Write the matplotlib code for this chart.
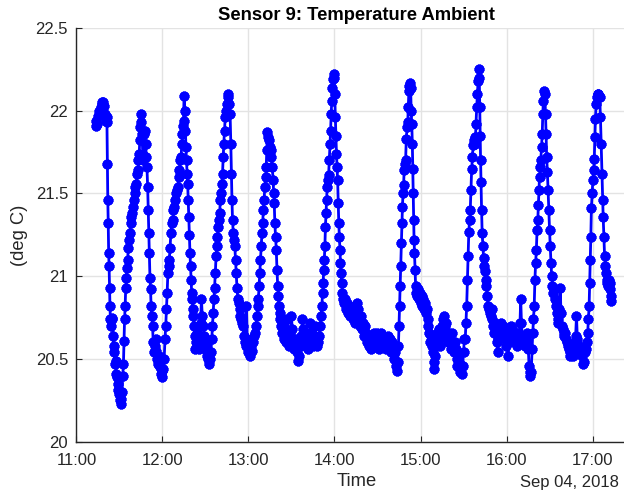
import matplotlib
matplotlib.use('Agg')
import matplotlib.pyplot as plt
import matplotlib.dates as mdates
import numpy as np
import pandas as pd

plt.rcParams['font.family'] = ['Liberation Sans', 'DejaVu Sans']

# minutes after 11:00 on Sep 04, 2018 and the ambient temperature (deg C)
minutes = [
    13.4, 14.0, 14.6, 15.2, 15.8, 16.4, 17.0, 17.6, 18.2, 18.8, 19.4, 20.0, 20.5, 21.0, 21.3,
    21.6, 21.9, 22.2, 22.5, 22.8, 23.1, 23.4, 23.7, 24.0, 24.5, 25.0, 25.5, 25.9, 26.3, 26.8,
    27.3, 27.8, 28.3, 28.8, 29.3, 29.8, 30.3, 30.8, 31.3, 31.8, 32.3, 32.8, 33.2, 33.6, 34.0,
    34.4, 34.8, 35.2, 35.7, 36.2, 36.7, 37.2, 37.8, 38.4, 39.0, 39.6, 40.2, 40.8, 41.2, 41.8,
    42.3, 42.8, 43.3, 43.8, 44.2, 44.6, 45.0, 45.4, 45.8, 46.3, 46.8, 47.3, 47.8, 48.3, 48.8,
    49.2, 49.7, 50.1, 50.5, 50.9, 51.3, 51.7, 52.1, 52.6, 53.1, 53.6, 54.1, 54.6, 55.2, 55.8,
    56.4, 57.0, 57.6, 58.2, 58.8, 59.4, 60.0, 60.6, 61.2, 61.8, 62.3, 62.8, 63.3, 63.8, 64.3,
    64.8, 65.3, 65.9, 66.5, 67.1, 67.7, 68.3, 68.9, 69.5, 70.1, 70.7, 71.3, 71.9, 72.5, 73.0,
    73.5, 73.9, 74.3, 74.7, 75.1, 75.6, 76.0, 76.4, 76.8, 77.2, 77.6, 78.0, 78.4, 78.8, 79.2,
    79.6, 80.0, 80.4, 80.8, 81.2, 81.6, 82.0, 82.5, 83.0, 83.6, 84.2, 84.8, 85.4, 86.0, 86.6,
    87.2, 87.8, 88.4, 89.0, 89.6, 90.2, 90.8, 91.4, 92.0, 92.6, 93.2, 93.8, 94.4, 94.9, 95.4,
    95.9, 96.4, 96.9, 97.4, 97.9, 98.4, 98.9, 99.4, 99.9, 100.4, 100.9, 101.4, 101.9, 102.4, 102.8,
    103.3, 103.8, 104.3, 104.8, 105.4, 106.0, 106.6, 107.2, 107.7, 108.1, 108.5, 108.9, 109.4, 110.0, 110.5,
    111.0, 111.5, 112.0, 112.6, 113.2, 113.8, 114.4, 115.0, 115.6, 116.2, 116.8, 117.4, 118.0, 118.6, 119.2,
    119.8, 120.4, 121.0, 121.6, 122.2, 122.8, 123.4, 124.0, 124.6, 125.2, 125.8, 126.4, 126.9, 127.4, 127.9,
    128.4, 128.9, 129.4, 129.9, 130.4, 130.9, 131.4, 131.9, 132.4, 132.8, 133.2, 133.7, 134.2, 134.8, 135.4,
    136.0, 136.6, 137.2, 137.6, 138.0, 138.4, 138.9, 139.4, 139.9, 140.4, 140.8, 141.2, 141.8, 142.3, 142.9,
    143.6, 144.3, 145.0, 145.7, 146.4, 147.1, 147.8, 148.5, 149.2, 149.9, 150.6, 151.3, 152.0, 152.7, 153.4,
    154.1, 154.8, 155.5, 156.2, 156.9, 157.6, 158.3, 159.0, 159.7, 160.4, 161.1, 161.8, 162.5, 163.2, 163.9,
    164.6, 165.3, 166.0, 166.7, 167.4, 168.0, 168.6, 169.3, 170.0, 170.6, 171.2, 171.7, 172.1, 172.5, 172.9,
    173.3, 173.7, 174.1, 174.5, 174.9, 175.4, 175.9, 176.4, 176.9, 177.3, 177.7, 178.1, 178.6, 179.0, 179.4,
    179.8, 180.2, 180.6, 181.0, 181.4, 181.8, 182.2, 182.6, 183.0, 183.4, 183.8, 184.2, 184.6, 185.0, 185.4,
    185.8, 186.4, 187.1, 187.8, 188.5, 189.2, 189.9, 190.6, 191.3, 192.0, 192.7, 193.4, 194.1, 194.8, 195.5,
    196.2, 196.9, 197.6, 198.3, 199.0, 199.7, 200.4, 201.1, 201.8, 202.5, 203.2, 203.9, 204.6, 205.3, 206.0,
    206.7, 207.4, 208.1, 208.8, 209.5, 210.2, 210.9, 211.6, 212.3, 213.0, 213.7, 214.4, 215.1, 215.8, 216.5,
    217.2, 217.9, 218.6, 219.3, 220.0, 220.7, 221.4, 222.1, 222.8, 223.5, 224.0, 224.6, 225.0, 225.4, 225.8,
    226.2, 226.6, 227.0, 227.4, 227.8, 228.2, 228.6, 229.1, 229.6, 230.1, 230.6, 231.1, 231.5, 231.9, 232.3,
    232.7, 233.1, 233.5, 233.9, 234.3, 234.6, 234.9, 235.2, 235.5, 235.8, 236.2, 236.6, 237.1, 237.7, 238.3,
    238.9, 239.5, 240.1, 240.7, 241.3, 241.9, 242.5, 243.1, 243.7, 244.3, 244.9, 245.5, 246.1, 246.7, 247.3,
    247.9, 248.5, 249.1, 249.6, 250.2, 250.8, 251.4, 252.0, 252.6, 253.2, 253.8, 254.4, 255.0, 255.6, 256.2,
    256.8, 257.4, 258.0, 258.6, 259.2, 259.8, 260.4, 261.0, 261.6, 262.2, 262.8, 263.4, 264.0, 264.6, 265.2,
    265.8, 266.4, 267.0, 267.6, 268.2, 268.8, 269.4, 270.0, 270.6, 271.2, 271.7, 272.2, 272.7, 273.2, 273.7,
    274.2, 274.7, 275.2, 275.7, 276.2, 276.7, 277.2, 277.7, 278.2, 278.7, 279.2, 279.7, 280.2, 280.6, 281.0,
    281.3, 281.6, 281.9, 282.2, 282.6, 283.0, 283.5, 284.0, 284.5, 285.0, 285.5, 286.0, 286.6, 287.2, 287.8,
    288.4, 289.0, 289.6, 290.2, 290.8, 291.4, 292.0, 292.6, 293.2, 293.8, 294.4, 295.0, 295.6, 296.2, 296.8,
    297.4, 298.0, 298.6, 299.2, 299.8, 300.4, 301.0, 301.6, 302.2, 302.8, 303.4, 304.0, 304.6, 305.2, 305.8,
    306.4, 307.0, 307.6, 308.2, 308.8, 309.4, 309.9, 310.4, 311.0, 311.6, 312.2, 312.8, 313.4, 314.0, 314.6,
    315.2, 315.7, 316.2, 316.7, 317.2, 317.8, 318.3, 318.8, 319.3, 319.8, 320.3, 320.8, 321.3, 321.8, 322.2,
    322.6, 323.0, 323.4, 323.9, 324.4, 324.9, 325.3, 325.7, 326.2, 326.7, 327.2, 327.6, 328.0, 328.5, 329.0,
    329.5, 330.0, 330.5, 331.0, 331.5, 332.0, 332.6, 333.2, 333.8, 334.4, 335.0, 335.6, 336.2, 336.8, 337.4,
    338.0, 338.6, 339.2, 339.8, 340.4, 341.0, 341.6, 342.2, 342.8, 343.4, 344.0, 344.6, 345.2, 345.8, 346.4,
    347.0, 347.6, 348.2, 348.8, 349.4, 350.0, 350.6, 351.2, 351.8, 352.4, 353.0, 353.6, 354.2, 354.8, 355.4,
    356.0, 356.6, 357.1, 357.6, 358.0, 358.4, 358.8, 359.2, 359.7, 360.2, 360.7, 361.2, 361.6, 362.0, 362.5,
    363.0, 363.5, 364.0, 364.5, 365.0, 365.5, 366.0, 366.5, 367.0, 367.4, 367.9, 368.4, 368.9, 369.4, 369.9,
    370.4, 370.9, 371.4, 371.9, 372.4, 372.9, 373.2,
]
temps = [
    21.91, 21.94, 21.92, 21.97, 22.00, 21.98, 22.02, 22.05, 22.04, 22.05, 22.03, 21.98, 21.94, 21.96, 21.93,
    21.68, 21.46, 21.32, 21.14, 21.06, 20.93, 20.82, 20.74, 20.70, 20.75, 20.74, 20.64, 20.58, 20.54, 20.47,
    20.49, 20.41, 20.39, 20.35, 20.31, 20.29, 20.25, 20.23, 20.26, 20.30, 20.40, 20.47, 20.61, 20.74, 20.82,
    20.93, 20.99, 21.05, 21.10, 21.17, 21.22, 21.26, 21.32, 21.36, 21.38, 21.42, 21.46, 21.50, 21.54, 21.56,
    21.62, 21.64, 21.70, 21.74, 21.82, 21.90, 21.98, 21.93, 21.86, 21.73, 21.70, 21.86, 21.88, 21.80, 21.72,
    21.66, 21.54, 21.40, 21.26, 21.14, 20.99, 20.92, 20.82, 20.76, 20.70, 20.60, 20.54, 20.58, 20.62, 20.55,
    20.50, 20.47, 20.52, 20.45, 20.41, 20.43, 20.39, 20.44, 20.50, 20.62, 20.70, 20.80, 20.90, 21.02, 21.06,
    21.10, 21.17, 21.26, 21.32, 21.34, 21.40, 21.42, 21.46, 21.50, 21.52, 21.54, 21.60, 21.64, 21.70, 21.72,
    21.80, 21.86, 21.91, 21.94, 22.09, 22.00, 21.88, 21.78, 21.70, 21.62, 21.56, 21.46, 21.36, 21.25, 21.14,
    21.06, 20.98, 20.90, 20.86, 20.80, 20.76, 20.70, 20.64, 20.56, 20.60, 20.66, 20.62, 20.56, 20.60, 20.72,
    20.86, 20.76, 20.70, 20.64, 20.58, 20.60, 20.54, 20.52, 20.50, 20.47, 20.50, 20.54, 20.62, 20.70, 20.78,
    20.86, 20.93, 21.02, 21.12, 21.18, 21.24, 21.30, 21.34, 21.38, 21.46, 21.50, 21.56, 21.62, 21.72, 21.80,
    21.88, 21.96, 22.00, 22.04, 22.08, 22.10, 22.04, 21.98, 21.80, 21.62, 21.46, 21.34, 21.26, 21.22, 21.18,
    21.10, 21.02, 20.93, 20.86, 20.84, 20.80, 20.76, 20.74, 20.72, 20.70, 20.64, 20.60, 20.58, 20.82, 20.60,
    20.54, 20.56, 20.52, 20.58, 20.62, 20.55, 20.60, 20.64, 20.66, 20.70, 20.76, 20.82, 20.86, 20.94, 21.02,
    21.10, 21.18, 21.26, 21.32, 21.40, 21.46, 21.54, 21.60, 21.66, 21.76, 21.87, 21.84, 21.82, 21.78, 21.76,
    21.72, 21.66, 21.58, 21.50, 21.44, 21.32, 21.24, 21.16, 21.04, 20.94, 20.88, 20.82, 20.78, 20.74, 20.70,
    20.66, 20.72, 20.62, 20.68, 20.60, 20.74, 20.64, 20.58, 20.66, 20.76, 20.68, 20.60, 20.56, 20.62, 20.58,
    20.54, 20.49, 20.52, 20.58, 20.64, 20.74, 20.68, 20.62, 20.58, 20.66, 20.60, 20.56, 20.62, 20.72, 20.66,
    20.60, 20.58, 20.64, 20.70, 20.62, 20.58, 20.60, 20.64, 20.70, 20.76, 20.82, 20.90, 20.96, 21.04, 21.10,
    21.18, 21.30, 21.38, 21.46, 21.54, 21.58, 21.61, 21.70, 21.80, 21.88, 21.98, 22.06, 22.14, 22.19, 22.22,
    22.20, 22.10, 21.96, 21.85, 21.74, 21.66, 21.58, 21.44, 21.32, 21.24, 21.16, 21.08, 21.02, 20.96, 20.90,
    20.86, 20.84, 20.86, 20.80, 20.84, 20.78, 20.82, 20.76, 20.80, 20.78, 20.74, 20.78, 20.72, 20.76, 20.84,
    20.80, 20.74, 20.70, 20.76, 20.68, 20.72, 20.64, 20.70, 20.66, 20.60, 20.64, 20.58, 20.62, 20.56, 20.64,
    20.60, 20.66, 20.58, 20.62, 20.66, 20.60, 20.56, 20.62, 20.66, 20.60, 20.64, 20.58, 20.62, 20.56, 20.62,
    20.64, 20.58, 20.62, 20.54, 20.60, 20.56, 20.50, 20.54, 20.46, 20.43, 20.48, 20.58, 20.70, 20.82, 20.94,
    21.06, 21.20, 21.32, 21.42, 21.50, 21.55, 21.64, 21.68, 21.70, 21.83, 21.90, 21.93, 22.02, 22.12, 22.15,
    22.17, 22.14, 22.00, 21.92, 21.80, 21.65, 21.50, 21.34, 21.22, 21.14, 21.04, 20.94, 20.90, 20.88, 20.92,
    20.86, 20.90, 20.84, 20.88, 20.82, 20.86, 20.80, 20.84, 20.78, 20.80, 20.74, 20.70, 20.66, 20.60, 20.64,
    20.58, 20.54, 20.48, 20.44, 20.52, 20.60, 20.66, 20.62, 20.68, 20.62, 20.58, 20.66, 20.70, 20.74, 20.76,
    20.70, 20.66, 20.72, 20.64, 20.60, 20.66, 20.62, 20.56, 20.60, 20.66, 20.58, 20.54, 20.60, 20.56, 20.50,
    20.46, 20.52, 20.48, 20.42, 20.45, 20.41, 20.46, 20.54, 20.62, 20.62, 20.72, 20.82, 20.98, 21.12, 21.27,
    21.34, 21.40, 21.52, 21.65, 21.72, 21.79, 21.82, 21.84, 21.80, 21.92, 22.02, 22.10, 22.18, 22.25, 22.20,
    22.02, 21.85, 21.70, 21.57, 21.40, 21.26, 21.18, 21.11, 21.06, 21.03, 20.98, 20.94, 20.88, 20.82, 20.80,
    20.78, 20.76, 20.80, 20.74, 20.70, 20.66, 20.72, 20.68, 20.60, 20.54, 20.62, 20.70, 20.66, 20.72, 20.64,
    20.70, 20.66, 20.62, 20.68, 20.58, 20.64, 20.52, 20.60, 20.66, 20.70, 20.64, 20.68, 20.62, 20.66, 20.60,
    20.64, 20.58, 20.62, 20.66, 20.62, 20.72, 20.86, 20.72, 20.64, 20.60, 20.64, 20.58, 20.62, 20.66, 20.60,
    20.56, 20.46, 20.42, 20.40, 20.42, 20.56, 20.66, 20.74, 20.82, 20.98, 21.08, 21.16, 21.28, 21.34, 21.43,
    21.52, 21.60, 21.66, 21.70, 21.78, 21.86, 21.98, 22.06, 22.12, 22.10, 21.98, 21.86, 21.72, 21.63, 21.52,
    21.40, 21.28, 21.18, 21.08, 21.00, 20.94, 20.90, 20.92, 20.86, 20.82, 20.78, 20.74, 20.72, 20.80, 20.93,
    20.78, 20.70, 20.68, 20.66, 20.64, 20.66, 20.62, 20.60, 20.58, 20.56, 20.52, 20.54, 20.58, 20.56, 20.52,
    20.58, 20.60, 20.64, 20.76, 20.62, 20.56, 20.58, 20.54, 20.56, 20.52, 20.54, 20.47, 20.48, 20.54, 20.56,
    20.60, 20.66, 20.74, 20.82, 20.96, 21.10, 21.24, 21.41, 21.50, 21.58, 21.64, 21.71, 21.84, 21.95, 22.04,
    22.08, 22.10, 22.10, 22.09, 22.08, 21.96, 21.80, 21.62, 21.46, 21.36, 21.24, 21.12, 21.06, 21.02, 20.98,
    20.96, 20.94, 20.98, 20.96, 20.92, 20.88, 20.85,
]

start = pd.Timestamp('2018-09-04 11:00')
times = start + pd.to_timedelta(np.array(minutes), unit='min')

W, H = 624, 493
fig = plt.figure(figsize=(W / 100, H / 100), dpi=100)
# axes runs a little past the right edge of the picture, as in the original
ax = fig.add_axes([76.4 / W, (H - 441.8) / H, (637 - 76.4) / W, (441.8 - 27.9) / H])

blue = (0, 0, 1)
ax.plot(times, np.array(temps), color=blue, lw=2.0, marker=(8, 2, 0),
        markersize=7, markeredgewidth=2.4, markeredgecolor=blue, markerfacecolor=blue)

ax.set_xlim(start, start + pd.Timedelta(minutes=391))
ax.set_ylim(20, 22.5)
ax.set_yticks([20, 20.5, 21, 21.5, 22, 22.5])
ax.set_yticklabels(['20', '20.5', '21', '21.5', '22', '22.5'])
ax.xaxis.set_major_locator(mdates.HourLocator())
ax.xaxis.set_major_formatter(mdates.DateFormatter('%H:%M'))

ax.grid(True, color='#e3e3e3', lw=1.0)
ax.set_axisbelow(True)
for s in ['top', 'right']:
    ax.spines[s].set_visible(False)
for s in ['left', 'bottom']:
    ax.spines[s].set_color('#262626')
    ax.spines[s].set_linewidth(1.0)
ax.tick_params(axis='both', direction='in', length=4, width=0.8, colors='#262626',
               labelsize=12)
ax.tick_params(axis='x', pad=8)
ax.tick_params(axis='y', pad=6)

fig.text(356 / W, 1 - 15 / H, 'Sensor 9: Temperature Ambient', ha='center', va='center',
         fontsize=13.2, fontweight='bold', color='black')
fig.text(357 / W, 1 - 482 / H, 'Time', ha='center', va='center', fontsize=13.2, color='#262626')
fig.text(20 / W, 1 - 235 / H, '(deg C)', ha='center', va='center', rotation=90,
         fontsize=13.2, color='#262626')
fig.text(619 / W, 1 - 482 / H, 'Sep 04, 2018', ha='right', va='center', fontsize=12,
         color='#262626')

fig.savefig('out.png', dpi=100)
